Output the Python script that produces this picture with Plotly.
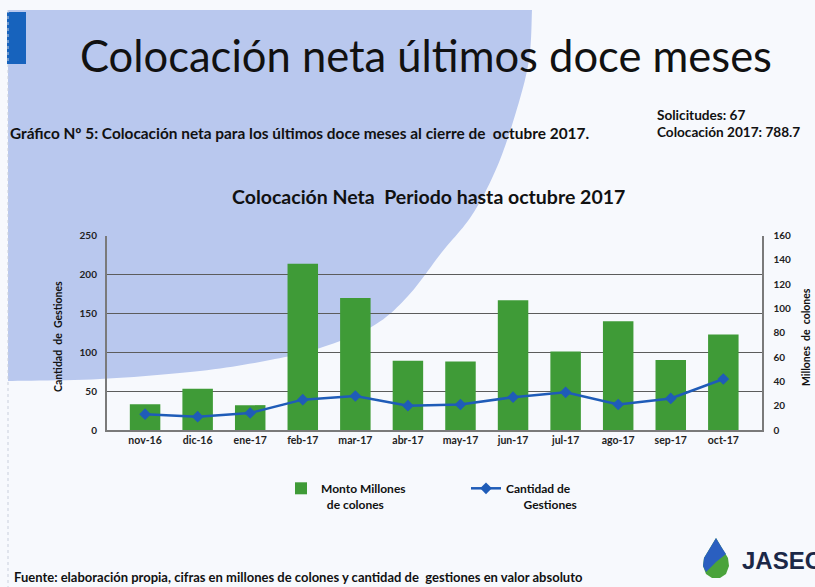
import plotly.graph_objects as go

W, H = 815, 587

months = ["nov-16", "dic-16", "ene-17", "feb-17", "mar-17", "abr-17",
          "may-17", "jun-17", "jul-17", "ago-17", "sep-17", "oct-17"]
monto = [33, 53, 32, 214, 170, 89, 88, 167, 101, 140, 90, 123]
gestiones = [13, 11, 14, 25, 28, 20, 21, 27, 31, 21, 26, 42]

left_ticks = [0, 50, 100, 150, 200, 250]
right_ticks = [0, 20, 40, 60, 80, 100, 120, 140, 160]

FONT = "Lato, 'Open Sans', sans-serif"
NB = "\u00a0"


def px(x):
    return x / W


def py(y):
    return 1 - y / H


def path_from(points, close=True):
    s = "M " + " L ".join(f"{px(x):.5f},{py(y):.5f}" for x, y in points)
    return s + (" Z" if close else "")


def catmull(pts, n=12):
    out = []
    p = [pts[0]] + pts + [pts[-1]]
    for i in range(1, len(p) - 2):
        p0, p1, p2, p3 = p[i - 1], p[i], p[i + 1], p[i + 2]
        for k in range(n):
            t = k / n
            t2, t3 = t * t, t * t * t
            x = 0.5 * ((2 * p1[0]) + (-p0[0] + p2[0]) * t + (2 * p0[0] - 5 * p1[0] + 4 * p2[0] - p3[0]) * t2 + (-p0[0] + 3 * p1[0] - 3 * p2[0] + p3[0]) * t3)
            y = 0.5 * ((2 * p1[1]) + (-p0[1] + p2[1]) * t + (2 * p0[1] - 5 * p1[1] + 4 * p2[1] - p3[1]) * t2 + (-p0[1] + 3 * p1[1] - 3 * p2[1] + p3[1]) * t3)
            out.append((x, y))
    out.append(pts[-1])
    return out


# decorative background arc
edge = [(532, 10), (529, 60), (516, 112), (497, 167), (472, 215), (442, 252),
        (408, 296), (373, 326), (320, 348), (270, 360), (200, 371), (100, 379), (8, 381)]
bg_pts = [(8, 10)] + catmull(edge) + [(8, 381)]

fig = go.Figure()

fig.add_trace(go.Bar(
    x=months, y=monto, name="Monto Millones<br>" + NB * 2 + "de colones",
    marker=dict(color="#3f9b37", line=dict(width=0)),
    yaxis="y",
))
fig.add_trace(go.Scatter(
    x=months, y=gestiones, name="Cantidad de<br>" + NB * 6 + "Gestiones",
    mode="lines+markers",
    line=dict(color="#1f5cb8", width=2.5),
    marker=dict(symbol="diamond", size=9, color="#1f5cb8"),
    yaxis="y2",
))

shapes = [
    dict(type="path", xref="paper", yref="paper", path=path_from(bg_pts),
         fillcolor="#b9c8ee", line=dict(width=0), layer="below"),
    dict(type="rect", xref="paper", yref="paper", x0=px(7), x1=px(26), y0=py(64), y1=py(12),
         fillcolor="#1763bd", line=dict(width=0), layer="below"),
    dict(type="line", xref="paper", yref="paper", x0=px(8), x1=px(8), y0=py(10), y1=py(587),
         line=dict(color="#c9cfdc", width=1, dash="dot"), layer="below"),
    # logo drop
    dict(type="path", xref="paper", yref="paper",
         path=path_from([(716, 538), (710, 548), (704, 558), (703, 566), (706, 574), (712, 578),
                         (720, 578), (726, 574), (729, 566), (728, 558), (722, 548)]),
         fillcolor="#4aa33b", line=dict(width=0), layer="above"),
    dict(type="path", xref="paper", yref="paper",
         path=path_from([(716, 538), (710, 548), (704, 558), (703, 566), (706, 572), (716, 562),
                         (726, 554), (722, 548)]),
         fillcolor="#2a5fc0", line=dict(width=0), layer="above"),
]

annotations = [
    dict(text="Colocación neta últimos doce meses", x=px(426), y=py(55),
         font=dict(size=43.5, color="#111", family=FONT)),
    dict(text="Gráfico Nº 5: Colocación neta para los últimos doce meses al cierre de  octubre 2017.",
         x=px(8), y=py(133), xanchor="left", font=dict(size=15.4, color="#111", family=FONT, weight="bold")),
    dict(text="Solicitudes: 67", x=px(655), y=py(115), xanchor="left",
         font=dict(size=13.6, color="#111", family=FONT, weight="bold")),
    dict(text="Colocación 2017: 788.7", x=px(655), y=py(132), xanchor="left",
         font=dict(size=13.6, color="#111", family=FONT, weight="bold")),
    dict(text="Colocación Neta  Periodo hasta octubre 2017", x=px(428), y=py(196),
         font=dict(size=19.5, color="#111", family=FONT, weight="bold")),
    dict(text="Cantidad  de  Gestiones", x=px(58), y=py(337), textangle=-90,
         font=dict(size=10.5, color="#111", family=FONT, weight="bold")),
    dict(text="Millones  de  colones", x=px(806), y=py(337), textangle=-90,
         font=dict(size=10.5, color="#111", family=FONT, weight="bold")),
    dict(text="Fuente: elaboración propia, cifras en millones de colones y cantidad de  gestiones en valor absoluto",
         x=px(12), y=py(577), xanchor="left", font=dict(size=13, color="#111", family=FONT, weight="bold")),
    dict(text="JASEC", x=px(740), y=py(560), xanchor="left",
         font=dict(size=24, color="#1b2847", family="'Liberation Sans', Arial, sans-serif", weight="bold")),
]
for a in annotations:
    a.update(xref="paper", yref="paper", showarrow=False)
    a.setdefault("xanchor", "center")
    a.setdefault("yanchor", "middle")

fig.update_layout(
    width=W, height=H,
    margin=dict(l=0, r=0, t=0, b=0, pad=0),
    paper_bgcolor="#f7f9fd",
    plot_bgcolor="rgba(0,0,0,0)",
    font=dict(family=FONT, color="#111"),
    bargap=0.42,
    showlegend=True,
    legend=dict(
        orientation="h", x=px(281), y=py(474), xanchor="left", yanchor="top",
        bgcolor="rgba(0,0,0,0)", font=dict(size=12, family=FONT, weight="bold", color="#111"),
        entrywidth=140, entrywidthmode="pixels", valign="top", itemwidth=30,
    ),
    xaxis=dict(
        domain=[px(106.7), px(761.7)], automargin=False,
        showline=True, linecolor="#7a7a7a", linewidth=1.5,
        tickfont=dict(size=10.5, family=FONT, weight="bold", color="#222"),
        ticks="", showgrid=False,
    ),
    yaxis=dict(
        domain=[py(430), py(235.7)], automargin=False,
        range=[0, 250], tickvals=left_ticks, ticktext=[str(v) for v in left_ticks],
        showgrid=True, gridcolor="#5c5c5c", gridwidth=1.2,
        showline=True, linecolor="#7a7a7a", linewidth=1.5,
        zeroline=False,
        tickfont=dict(size=10, family=FONT, weight="bold", color="#222"),
        ticks="", ticklabelstandoff=6,
    ),
    yaxis2=dict(
        overlaying="y", side="right", anchor="x", automargin=False,
        range=[0, 160], tickvals=right_ticks, ticktext=[str(v) for v in right_ticks],
        showgrid=False, zeroline=False,
        showline=True, linecolor="#7a7a7a", linewidth=1.5,
        tickfont=dict(size=10, family=FONT, weight="bold", color="#222"),
        ticks="", ticklabelstandoff=8,
    ),
    shapes=shapes,
    annotations=annotations,
)

fig.write_html(
    "out.html",
    config={"displayModeBar": False},
    post_script="document.body.style.margin='0';document.body.style.overflow='hidden';",
)
